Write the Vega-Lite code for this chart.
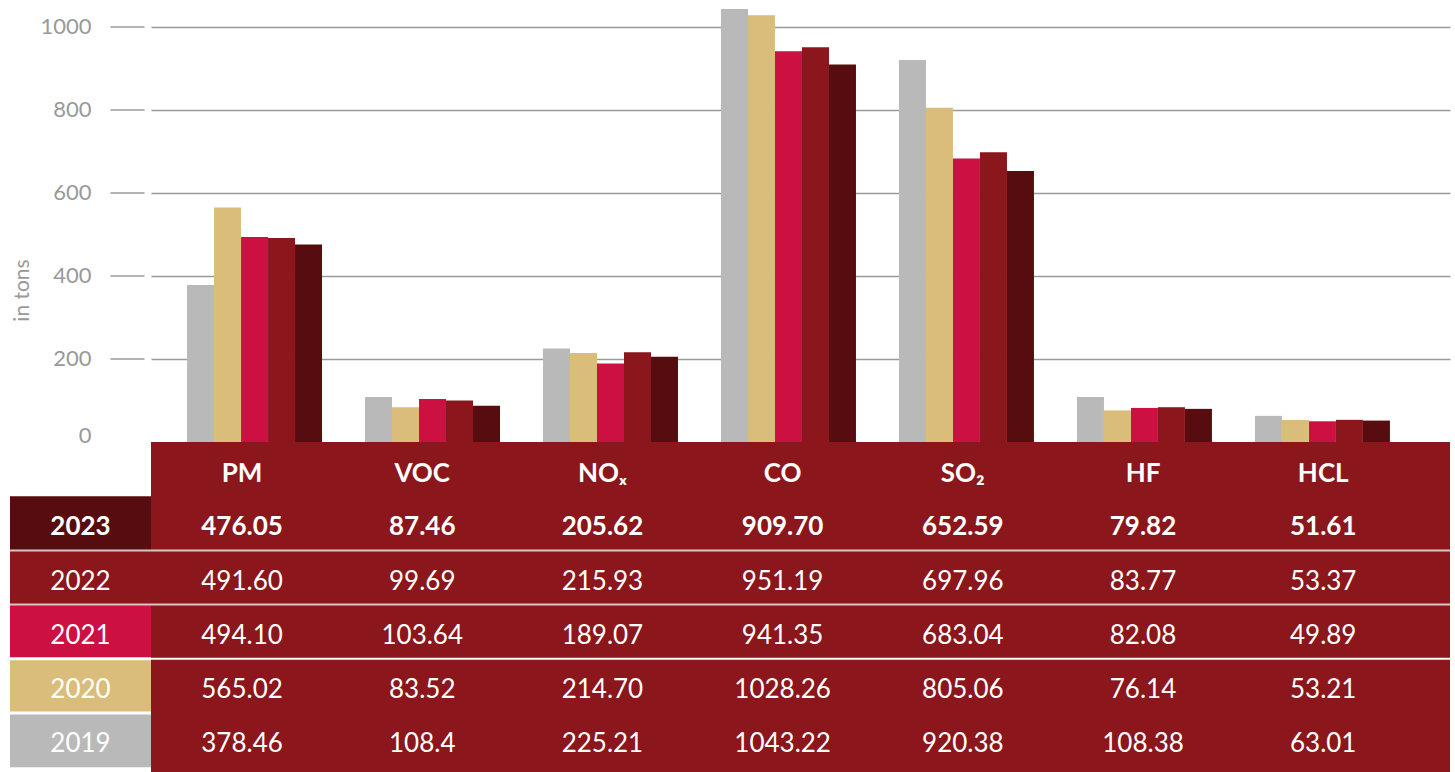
{
  "$schema": "https://vega.github.io/schema/vega-lite/v6.json",
  "padding": {"left": 8, "top": 2, "right": 7, "bottom": 0},
  "background": "white",
  "config": {
    "view": {"stroke": null},
    "font": "Lato",
    "text": {"font": "Lato"}
  },
  "datasets": {
    "emissions": [
      {"component": "PM", "name": "PM", "year": "2023", "value": 476.05, "shown": "476.05"},
      {"component": "PM", "name": "PM", "year": "2022", "value": 491.60, "shown": "491.60"},
      {"component": "PM", "name": "PM", "year": "2021", "value": 494.10, "shown": "494.10"},
      {"component": "PM", "name": "PM", "year": "2020", "value": 565.02, "shown": "565.02"},
      {"component": "PM", "name": "PM", "year": "2019", "value": 378.46, "shown": "378.46"},
      {"component": "VOC", "name": "VOC", "year": "2023", "value": 87.46, "shown": "87.46"},
      {"component": "VOC", "name": "VOC", "year": "2022", "value": 99.69, "shown": "99.69"},
      {"component": "VOC", "name": "VOC", "year": "2021", "value": 103.64, "shown": "103.64"},
      {"component": "VOC", "name": "VOC", "year": "2020", "value": 83.52, "shown": "83.52"},
      {"component": "VOC", "name": "VOC", "year": "2019", "value": 108.4, "shown": "108.4"},
      {"component": "NOx", "name": "NOₓ", "year": "2023", "value": 205.62, "shown": "205.62"},
      {"component": "NOx", "name": "NOₓ", "year": "2022", "value": 215.93, "shown": "215.93"},
      {"component": "NOx", "name": "NOₓ", "year": "2021", "value": 189.07, "shown": "189.07"},
      {"component": "NOx", "name": "NOₓ", "year": "2020", "value": 214.70, "shown": "214.70"},
      {"component": "NOx", "name": "NOₓ", "year": "2019", "value": 225.21, "shown": "225.21"},
      {"component": "CO", "name": "CO", "year": "2023", "value": 909.70, "shown": "909.70"},
      {"component": "CO", "name": "CO", "year": "2022", "value": 951.19, "shown": "951.19"},
      {"component": "CO", "name": "CO", "year": "2021", "value": 941.35, "shown": "941.35"},
      {"component": "CO", "name": "CO", "year": "2020", "value": 1028.26, "shown": "1028.26"},
      {"component": "CO", "name": "CO", "year": "2019", "value": 1043.22, "shown": "1043.22"},
      {"component": "SO2", "name": "SO₂", "year": "2023", "value": 652.59, "shown": "652.59"},
      {"component": "SO2", "name": "SO₂", "year": "2022", "value": 697.96, "shown": "697.96"},
      {"component": "SO2", "name": "SO₂", "year": "2021", "value": 683.04, "shown": "683.04"},
      {"component": "SO2", "name": "SO₂", "year": "2020", "value": 805.06, "shown": "805.06"},
      {"component": "SO2", "name": "SO₂", "year": "2019", "value": 920.38, "shown": "920.38"},
      {"component": "HF", "name": "HF", "year": "2023", "value": 79.82, "shown": "79.82"},
      {"component": "HF", "name": "HF", "year": "2022", "value": 83.77, "shown": "83.77"},
      {"component": "HF", "name": "HF", "year": "2021", "value": 82.08, "shown": "82.08"},
      {"component": "HF", "name": "HF", "year": "2020", "value": 76.14, "shown": "76.14"},
      {"component": "HF", "name": "HF", "year": "2019", "value": 108.38, "shown": "108.38"},
      {"component": "HCL", "name": "HCL", "year": "2023", "value": 51.61, "shown": "51.61"},
      {"component": "HCL", "name": "HCL", "year": "2022", "value": 53.37, "shown": "53.37"},
      {"component": "HCL", "name": "HCL", "year": "2021", "value": 49.89, "shown": "49.89"},
      {"component": "HCL", "name": "HCL", "year": "2020", "value": 53.21, "shown": "53.21"},
      {"component": "HCL", "name": "HCL", "year": "2019", "value": 63.01, "shown": "63.01"}
    ],
    "years": [
      {"year": "2023"},
      {"year": "2022"},
      {"year": "2021"},
      {"year": "2020"},
      {"year": "2019"}
    ],
    "gridlines": [
      {"tons": 200},
      {"tons": 400},
      {"tons": 600},
      {"tons": 800},
      {"tons": 1000}
    ]
  },
  "spacing": 0,
  "bounds": "flush",
  "columns": 2,
  "concat": [
    {
      "width": 141,
      "height": 440,
      "data": {"name": "gridlines"},
      "mark": {"type": "tick", "orient": "horizontal", "color": "#9a9a9a", "size": 34, "thickness": 1.5, "opacity": 1},
      "encoding": {
        "x": {
          "datum": "grid",
          "type": "nominal",
          "scale": {"type": "band", "domain": ["grid"], "paddingInner": 0, "paddingOuter": 1.574, "align": 1},
          "axis": null
        },
        "y": {
          "field": "tons",
          "type": "quantitative",
          "scale": {"domain": [0, 1060], "nice": false},
          "axis": null
        }
      }
    },
    {
      "width": 1299,
      "height": 440,
      "data": {"name": "emissions"},
      "mark": {"type": "bar"},
      "encoding": {
        "x": {
          "field": "component",
          "type": "nominal",
          "sort": ["PM", "VOC", "NOx", "CO", "SO2", "HF", "HCL"],
          "scale": {"type": "band", "paddingInner": 0.2416, "paddingOuter": 0.27, "align": 0.375},
          "axis": null
        },
        "xOffset": {
          "field": "year",
          "type": "nominal",
          "sort": ["2019", "2020", "2021", "2022", "2023"],
          "scale": {"paddingInner": 0, "paddingOuter": 0}
        },
        "y": {
          "field": "value",
          "type": "quantitative",
          "scale": {"domain": [0, 1060], "nice": false},
          "axis": {
            "title": "in tons",
            "values": [0, 200, 400, 600, 800, 1000],
            "format": "d",
            "grid": true,
            "gridColor": "#9a9a9a",
            "gridWidth": 1.5,
            "gridOpacity": {"condition": {"test": "datum.value === 0", "value": 0}, "value": 1},
            "domain": false,
            "ticks": false,
            "labelPadding": 60,
            "labelFont": "Lato",
            "labelFontSize": 22,
            "labelColor": "#999999",
            "labelBaseline": {"condition": {"test": "datum.value === 0", "value": "alphabetic"}, "value": "middle"},
            "titleFont": "Lato",
            "titleFontSize": 21,
            "titleFontWeight": "normal",
            "titleColor": "#999999",
            "titlePadding": 7,
            "titleY": 288
          }
        },
        "color": {
          "field": "year",
          "type": "nominal",
          "scale": {
            "domain": ["2019", "2020", "2021", "2022", "2023"],
            "range": ["#b9b9b9", "#dabd7a", "#cc1042", "#8b161b", "#570c0f"]
          },
          "legend": null
        }
      }
    },
    {
      "width": 141,
      "height": 330,
      "data": {"name": "years"},
      "encoding": {
        "y": {
          "field": "year",
          "type": "nominal",
          "scale": {
            "type": "band",
            "domain": ["Header", "2023", "2022", "2021", "2020", "2019"],
            "paddingInner": 0,
            "paddingOuter": 0.044,
            "align": 0
          },
          "axis": null
        }
      },
      "layer": [
        {
          "mark": {"type": "rect"},
          "encoding": {
            "color": {
              "field": "year",
              "type": "nominal",
              "scale": {
                "domain": ["2019", "2020", "2021", "2022", "2023"],
                "range": ["#b9b9b9", "#dabd7a", "#cc1042", "#8b161b", "#570c0f"]
              },
              "legend": null
            }
          }
        },
        {
          "transform": [{"filter": "datum.year === '2023'"}],
          "mark": {"type": "text", "font": "Lato", "fontSize": 26, "fontWeight": "bold", "color": "white", "baseline": "middle", "dy": 4},
          "encoding": {"text": {"field": "year"}}
        },
        {
          "transform": [{"filter": "datum.year !== '2023'"}],
          "mark": {"type": "text", "font": "Lato", "fontSize": 26, "fontWeight": "normal", "color": "white", "baseline": "middle", "dy": 4},
          "encoding": {"text": {"field": "year"}}
        },
        {
          "transform": [{"filter": "datum.year === '2022' || datum.year === '2021'"}],
          "mark": {"type": "rule", "color": "#dcc4c5", "strokeWidth": 2},
          "encoding": {"y": {"field": "year", "type": "nominal", "bandPosition": 0}}
        },
        {
          "transform": [{"filter": "datum.year === '2020' || datum.year === '2019'"}],
          "mark": {"type": "rule", "color": "white", "strokeWidth": 3},
          "encoding": {"y": {"field": "year", "type": "nominal", "bandPosition": 0}}
        }
      ]
    },
    {
      "width": 1299,
      "height": 330,
      "view": {"fill": "#8b161b", "stroke": null},
      "data": {"name": "emissions"},
      "encoding": {
        "y": {
          "field": "year",
          "type": "nominal",
          "scale": {
            "type": "band",
            "domain": ["Header", "2023", "2022", "2021", "2020", "2019"],
            "paddingInner": 0,
            "paddingOuter": 0.044,
            "align": 0
          },
          "axis": null
        }
      },
      "layer": [
        {
          "transform": [{"filter": "datum.year === '2023'"}],
          "mark": {"type": "text", "font": "Lato", "fontSize": 26, "fontWeight": "bold", "color": "white", "baseline": "middle", "dy": 4},
          "encoding": {
            "x": {
              "field": "component",
              "type": "nominal",
              "sort": ["PM", "VOC", "NOx", "CO", "SO2", "HF", "HCL"],
              "scale": {"type": "band", "paddingInner": 0, "paddingOuter": 0.1044, "align": 0.025},
              "axis": null
            },
            "text": {"field": "shown"}
          }
        },
        {
          "transform": [{"filter": "datum.year === '2023'"}],
          "mark": {"type": "text", "font": "Lato", "fontSize": 26, "fontWeight": "bold", "color": "white", "baseline": "middle", "dy": 5},
          "encoding": {
            "x": {
              "field": "component",
              "type": "nominal",
              "sort": ["PM", "VOC", "NOx", "CO", "SO2", "HF", "HCL"],
              "scale": {"type": "band", "paddingInner": 0, "paddingOuter": 0.1044, "align": 0.025},
              "axis": null
            },
            "y": {"datum": "Header", "type": "nominal"},
            "text": {"field": "name"}
          }
        },
        {
          "transform": [{"filter": "datum.year !== '2023'"}],
          "mark": {"type": "text", "font": "Lato", "fontSize": 26, "fontWeight": "normal", "color": "white", "baseline": "middle", "dy": 4},
          "encoding": {
            "x": {
              "field": "component",
              "type": "nominal",
              "sort": ["PM", "VOC", "NOx", "CO", "SO2", "HF", "HCL"],
              "scale": {"type": "band", "paddingInner": 0, "paddingOuter": 0.1044, "align": 0.025},
              "axis": null
            },
            "text": {"field": "shown"}
          }
        },
        {
          "transform": [{"filter": "datum.component === 'PM' && (datum.year === '2022' || datum.year === '2021')"}],
          "mark": {"type": "rule", "color": "#dcc4c5", "strokeWidth": 2},
          "encoding": {"y": {"field": "year", "type": "nominal", "bandPosition": 0}}
        },
        {
          "transform": [{"filter": "datum.component === 'PM' && datum.year === '2020'"}],
          "mark": {"type": "rule", "color": "white", "strokeWidth": 2},
          "encoding": {"y": {"field": "year", "type": "nominal", "bandPosition": 0}}
        }
      ]
    }
  ]
}
